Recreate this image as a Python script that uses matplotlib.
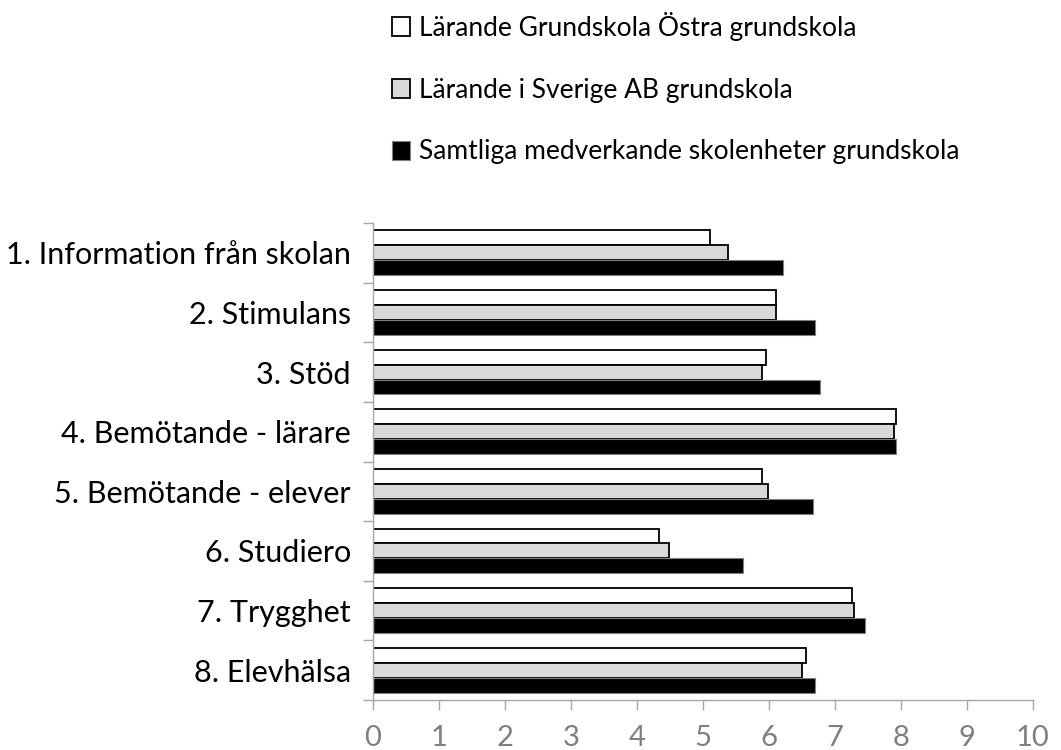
import matplotlib
matplotlib.use("Agg")
import matplotlib.pyplot as plt
import numpy as np

plt.rcParams["font.family"] = ["Lato", "DejaVu Sans"]

categories = [
    "1. Information från skolan",
    "2. Stimulans",
    "3. Stöd",
    "4. Bemötande - lärare",
    "5. Bemötande - elever",
    "6. Studiero",
    "7. Trygghet",
    "8. Elevhälsa",
]
series_names = [
    "Lärande Grundskola Östra grundskola",
    "Lärande i Sverige AB grundskola",
    "Samtliga medverkande skolenheter grundskola",
]
ostra = [5.11, 6.11, 5.95, 7.93, 5.89, 4.33, 7.26, 6.56]
sverige_ab = [5.38, 6.11, 5.89, 7.89, 5.98, 4.48, 7.29, 6.50]
samtliga = [6.21, 6.69, 6.78, 7.93, 6.66, 5.60, 7.45, 6.69]

W, H = 1061, 750
fig = plt.figure(figsize=(W / 100, H / 100), dpi=100)
ax = fig.add_axes([373 / W, (H - 700) / H, 660 / W, 477 / H])

y = np.arange(len(categories))
h = 0.25
styles = [
    dict(color="white", edgecolor="black", linewidth=1.3),
    dict(color="#d9d9d9", edgecolor="black", linewidth=1.3),
    dict(color="black", edgecolor="#808080", linewidth=0.8),
]
for i, (vals, name, st) in enumerate(zip([ostra, sverige_ab, samtliga], series_names, styles)):
    ax.barh(y + (i - 1) * h, vals, height=h, label=name, **st)

ax.set_xlim(0, 10)
ax.set_ylim(len(categories) - 0.5, -0.5)
ax.set_xticks(range(0, 11))
ax.set_yticks(y)
ax.set_yticklabels(categories, fontsize=22)
ax.set_yticks(np.arange(-0.5, len(categories), 1), minor=True)
ax.tick_params(axis="y", which="major", length=0, pad=16)
ax.tick_params(axis="y", which="minor", length=7, color="#a6a6a6", width=1)
ax.tick_params(axis="x", length=7, color="#a6a6a6", width=1, labelsize=21,
               labelcolor="#7f7f7f", pad=11)
for s in ["top", "right"]:
    ax.spines[s].set_visible(False)
for s in ["left", "bottom"]:
    ax.spines[s].set_color("#a6a6a6")
    ax.spines[s].set_linewidth(1)

fig.legend(loc="upper left", bbox_to_anchor=(381 / W, 1 - 1 / H), frameon=False,
           fontsize=19, handlelength=0.68, handleheight=0.75, handletextpad=0.35,
           labelspacing=1.4, borderaxespad=0)

fig.savefig("out.png", dpi=100)
